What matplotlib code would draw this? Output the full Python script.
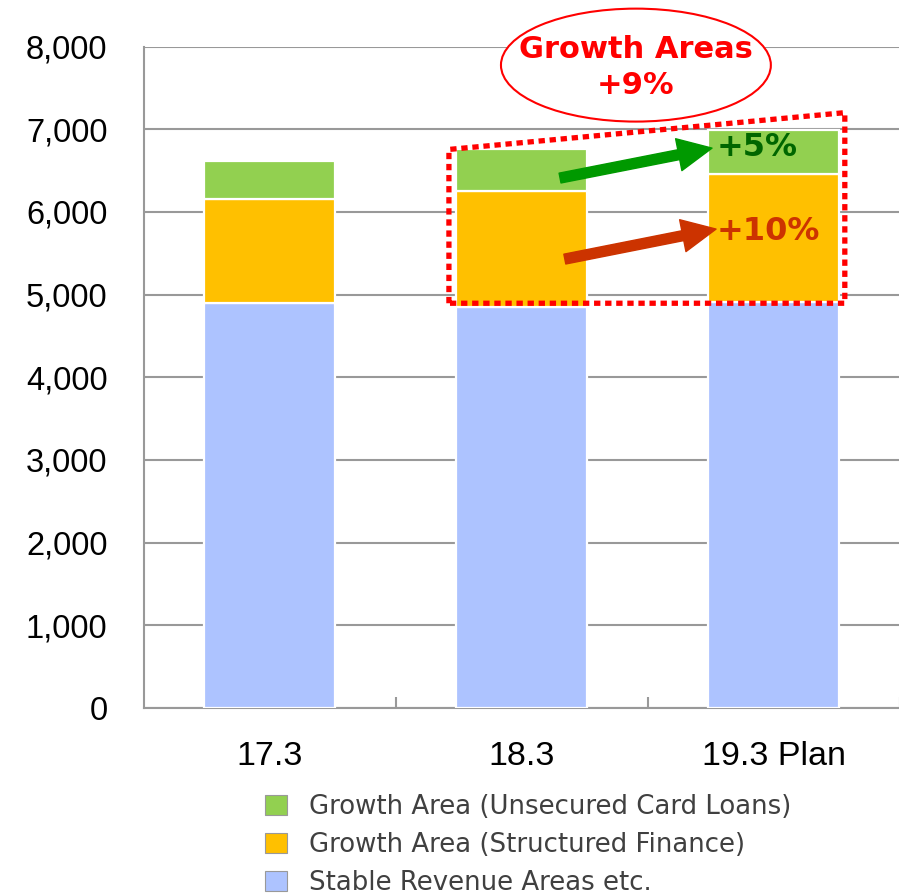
import matplotlib
matplotlib.use("Agg")
import matplotlib.pyplot as plt
from matplotlib.patches import Ellipse, Polygon
from matplotlib.ticker import FuncFormatter, FixedLocator
import numpy as np

# fiscal years and revenue breakdown (100 million yen)
periods = ["17.3", "18.3", "19.3 Plan"]
stable = [4895, 4850, 4915]
structured = [1260, 1400, 1545]
card_loans = [460, 505, 525]

labels = ["Growth Area (Unsecured Card Loans)",
          "Growth Area (Structured Finance)",
          "Stable Revenue Areas etc."]
growth_label = "Growth Areas\n+9%"
card_growth = "+5%"
structured_growth = "+10%"

c_card = "#92D050"
c_struct = "#FFC000"
c_stable = "#ADC3FF"

fig = plt.figure(figsize=(8.99, 8.96), dpi=100)
ax = fig.add_axes([143.5 / 899, 1 - 708 / 896, 756 / 899, 661.5 / 896])

x = np.arange(len(periods))
w = 0.516
stable = np.array(stable)
structured = np.array(structured)
card_loans = np.array(card_loans)

b1 = ax.bar(x, stable, w, color=c_stable, edgecolor="white", linewidth=1.6, zorder=3)
b2 = ax.bar(x, structured, w, bottom=stable, color=c_struct, edgecolor="white",
            linewidth=1.6, zorder=3)
b3 = ax.bar(x, card_loans, w, bottom=stable + structured, color=c_card,
            edgecolor="white", linewidth=1.6, zorder=3)

ax.set_xlim(-0.5, 2.5)
ax.set_ylim(0, 8000)
ax.set_yticks(np.arange(0, 8001, 1000))
ax.yaxis.set_major_formatter(FuncFormatter(lambda v, p: f"{int(v):,}"))
ax.grid(axis="y", color="#999999", linewidth=1.5, zorder=0)
ax.tick_params(axis="y", length=0, pad=26, labelsize=23.5)
for t in ax.get_yticklabels():
    t.set_fontfamily("Liberation Sans")

ax.set_xticks(x)
ax.set_xticklabels(periods, fontsize=24.5, fontfamily="Liberation Sans")
ax.tick_params(axis="x", which="major", length=0, pad=24)
ax.xaxis.set_minor_locator(FixedLocator([0.5, 1.5, 2.5]))
ax.tick_params(axis="x", which="minor", direction="in", length=8, width=1.5,
               color="#999999")

for s in ["top", "right"]:
    ax.spines[s].set_visible(False)
for s in ["left", "bottom"]:
    ax.spines[s].set_color("#999999")
    ax.spines[s].set_linewidth(1.5)

# dotted frame around the growth segments of the last two years
totals = stable + structured + card_loans
left = x[1] - w / 2 - 0.03
right = x[2] + w / 2 + 0.025
bottom = stable[2] - 20
frame = Polygon([(left, bottom), (left, totals[1]), (right, totals[2] + 215),
                 (right, bottom)], closed=True, fill=False, edgecolor="#FF0000",
                linewidth=3.8, linestyle=(0, (1.2, 0.9)), zorder=5, clip_on=False)
ax.add_patch(frame)

# growth arrows
ax.annotate("", xy=(1.756, 6771), xytext=(1.153, 6409),
            arrowprops=dict(arrowstyle="simple,head_width=1.17,head_length=1.22,tail_width=0.36",
                            mutation_scale=20, color="#009900", shrinkA=0, shrinkB=0),
            zorder=6)
ax.annotate("", xy=(1.772, 5792), xytext=(1.172, 5429),
            arrowprops=dict(arrowstyle="simple,head_width=1.17,head_length=1.22,tail_width=0.36",
                            mutation_scale=20, color="#CC3300", shrinkA=0, shrinkB=0),
            zorder=6)
ax.text(1.775, 6783, card_growth, color="#006600", fontsize=23, fontweight="bold",
        va="center", ha="left", zorder=7)
ax.text(1.775, 5768, structured_growth, color="#CC3300", fontsize=23, fontweight="bold",
        va="center", ha="left", zorder=7)

# callout ellipse
ell = Ellipse((1.454, 7775), 1.071, 1366, facecolor="white", edgecolor="#FF0000",
              linewidth=1.5, zorder=6, clip_on=False)
ax.add_patch(ell)
ax.text(1.454, 7750, growth_label, color="#FF0000", fontsize=22, fontweight="bold",
        ha="center", va="center", linespacing=1.3, zorder=7, clip_on=False)

handles = [b3[0], b2[0], b1[0]]
leg = fig.legend(handles, labels, loc="upper left", bbox_to_anchor=(265 / 899, 1 - 794 / 896),
                 frameon=False, fontsize=18.7, handlelength=0.85, handleheight=0.85,
                 handletextpad=0.85, labelspacing=0.46, borderaxespad=0, borderpad=0)
for t in leg.get_texts():
    t.set_color("#404040")
for h in leg.legend_handles:
    h.set_edgecolor("#999999")
    h.set_linewidth(0.8)

fig.savefig("out.png", dpi=100)
